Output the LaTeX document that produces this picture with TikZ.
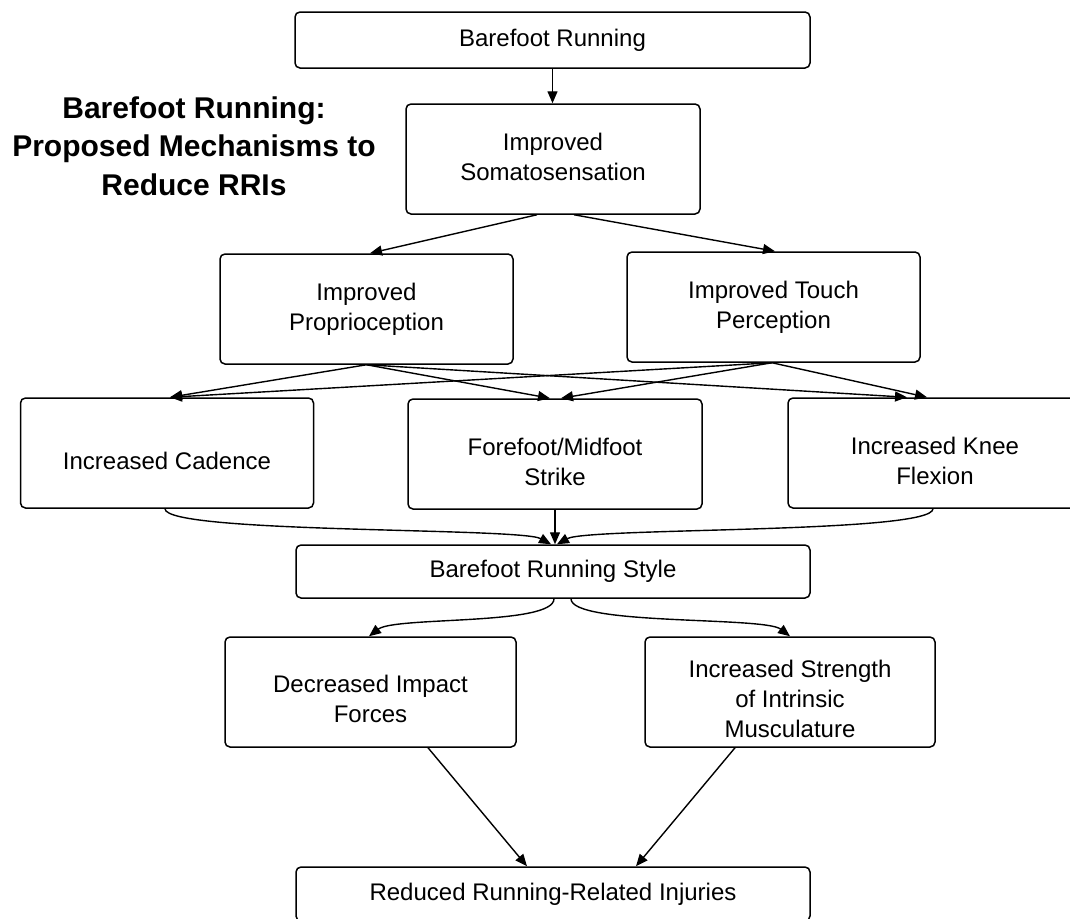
\documentclass[tikz,border=0pt]{standalone}
\usepackage{fontspec}
\usepackage{graphicx}
\setmainfont{Liberation Sans}
\usetikzlibrary{arrows.meta,calc}
\newcommand\tx[2][0pt]{\raisebox{-#1}[\height][\depth]{\begin{tabular}{@{}c@{}}#2\end{tabular}}}
\begin{document}
\begin{tikzpicture}[x=1pt,y=-1pt,
  box/.style={draw=black, line width=1.5pt, rounded corners=5pt, fill=white, inner sep=0pt,
              font=\fontsize{24}{30}\selectfont},
  arr/.style={draw=black, line width=1.4pt, -{Triangle[length=12pt,width=10pt]}},
  ttl/.style={inner sep=0pt, font=\fontsize{30}{38.5}\selectfont\bfseries}
]
\clip (0,0) rectangle (1070,918);

\node[ttl] (title) at (194,149) {\begin{tabular}{@{}c@{}}Barefoot Running:\\Proposed Mechanisms to\\Reduce RRIs\end{tabular}};

\node[box, minimum width=515pt, minimum height=56pt] (br) at (552.5,40) {\tx{Barefoot Running}};
\node[box, minimum width=294pt, minimum height=110pt] (soma) at (553,159) {\tx{Improved\\Somatosensation}};
\node[box, minimum width=293pt, minimum height=110pt] (pro) at (366.5,309) {\tx{Improved\\Proprioception}};
\node[box, minimum width=293pt, minimum height=110pt] (tou) at (773.5,307) {\tx{Improved Touch\\Perception}};
\node[box, minimum width=293pt, minimum height=110pt] (cad) at (167,453) {\tx[10pt]{Increased Cadence}};
\node[box, minimum width=294pt, minimum height=110pt] (ff) at (555,454) {\tx[10pt]{Forefoot/Midfoot\\Strike}};
\node[box, minimum width=294pt, minimum height=110pt] (knee) at (935,453) {\tx[10pt]{Increased Knee\\Flexion}};
\node[box, minimum width=514pt, minimum height=53pt] (sty) at (553,571.5) {\tx{Barefoot Running Style}};
\node[box, minimum width=291pt, minimum height=110pt] (dec) at (370.5,692) {\tx[9pt]{Decreased Impact\\Forces}};
\node[box, minimum width=290pt, minimum height=110pt] (str) at (790,692) {\tx[9pt]{Increased Strength\\of Intrinsic\\Musculature}};
\node[box, minimum width=514pt, minimum height=54pt] (red) at (553,894) {\tx{Reduced Running-Related Injuries}};

% row 1 -> 2
\draw[arr] (br.south) -- (br.south |- soma.north);
\draw[arr] ($(soma.south)+(-16,0)$) -- ($(pro.north)+(3.5,0)$);
\draw[arr] ($(soma.south)+(21,0)$) -- ($(tou.north)+(1.5,0)$);

% row 2 -> 3
\draw[arr] (pro.south) -- ($(cad.north)+(3,0)$);
\draw[arr] (pro.south) -- ($(ff.north)+(-5,0)$);
\draw[arr] (pro.south) -- ($(knee.north)+(-28,0)$);
\draw[arr] ($(tou.south)+(-1.5,0)$) -- ($(cad.north)+(3,0)$);
\draw[arr] ($(tou.south)+(-1.5,0)$) -- ($(ff.north)+(6,0)$);
\draw[arr] ($(tou.south)+(-1.5,0)$) -- ($(knee.north)+(-8,0)$);

% row 3 -> style
\draw[arr] ($(cad.south)+(-2,0)$) .. controls +(0,25) and +(-31,-17) .. ($(sty.north)+(-2,0)$);
\draw[arr] (ff.south) -- (ff.south |- sty.north);
\draw[arr] ($(knee.south)+(-2,0)$) .. controls +(0,25) and +(31,-17) .. ($(sty.north)+(4,0)$);

% style -> row 5
\draw[arr] ($(sty.south)+(1,0)$) .. controls +(0,27) and +(26,-20) .. ($(dec.north)+(-1.5,0)$);
\draw[arr] ($(sty.south)+(18,0)$) .. controls +(0,27) and +(-26,-20) .. (str.north);

% row 5 -> reduced
\draw[arr] ($(dec.south)+(57.5,0)$) -- ($(red.north)+(-26,0)$);
\draw[arr] ($(str.south)+(-55,0)$) -- ($(red.north)+(83,0)$);
\end{tikzpicture}
\end{document}
